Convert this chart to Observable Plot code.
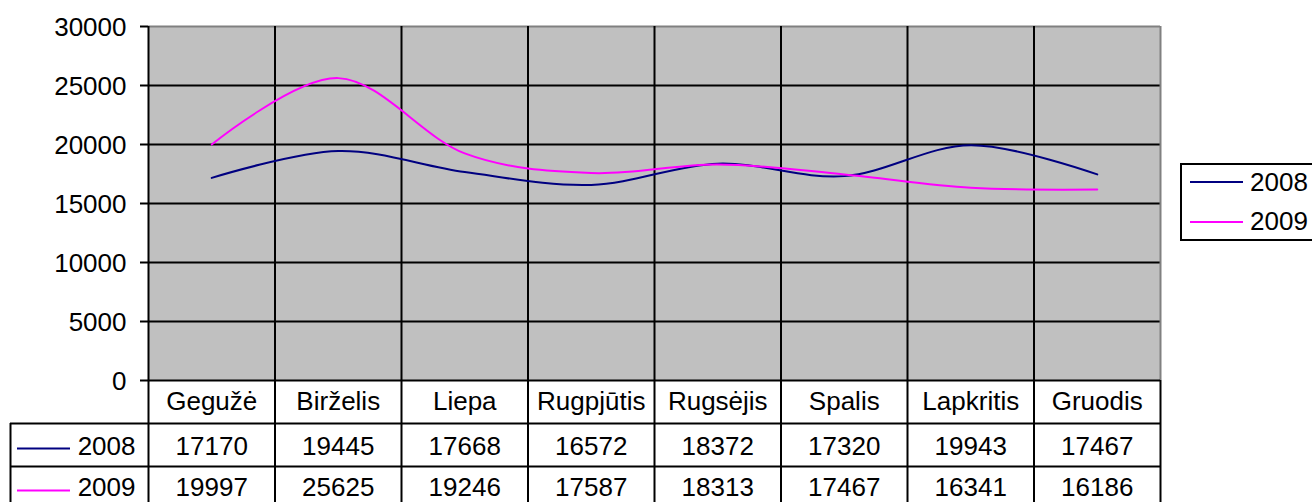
<!DOCTYPE html>
<html><head><meta charset="utf-8">
<script src="https://cdn.jsdelivr.net/npm/d3@7"></script>
<script src="https://cdn.jsdelivr.net/npm/@observablehq/plot@0.6"></script>
<style>
body{margin:0;background:#fff;}
#wrap{position:relative;width:1312px;height:502px;overflow:hidden;font-family:Arial,"Liberation Sans",sans-serif;}
#wrap svg{position:absolute;left:0;top:0;}
#legend{position:absolute;left:1180px;top:163px;width:220px;height:78px;border:2px solid #000;box-sizing:border-box;background:#fff}
.item{position:absolute;left:8px;height:30px;display:flex;align-items:center;font-size:26px;color:#000;white-space:nowrap}
.sw{width:53px;height:2px;margin-right:7px}
</style></head><body><div id="wrap"></div>
<script>
const months = ["Gegužė","Birželis","Liepa","Rugpjūtis","Rugsėjis","Spalis","Lapkritis","Gruodis"];
const years = ["2008","2009"];
const values2008 = [17170,19445,17668,16572,18372,17320,19943,17467];
const values2009 = [19997,25625,19246,17587,18313,17467,16341,16186];
const colors = ["#000080","#ff00ff"];
const yTicks = [0,5000,10000,15000,20000,25000,30000];

const seriesValues = [values2008, values2009];
const points = years.flatMap((year, k) => seriesValues[k].map((value, i) => ({year, i, month: months[i], value})));
const boundaries = d3.range(months.length).map(i => i - 0.5);

const W = 1312, H = 502;
const mL = 148, mR = 152, mT = 26, mB = 122;
const plotH = H - mT - mB;
const rowH = 43, tableH = 130, leftCol = 138;
const FS = 26;
const rowTextDy = [66, 107];
const rowLineDy = [68, 110];

const marks = [
  Plot.frame({fill: "#c0c0c0", stroke: "none"}),
  Plot.ruleY(yTicks.filter(v => v > 0 && v < 30000), {stroke: "#000", strokeWidth: 2}),
  Plot.ruleY([30000], {stroke: "#808080", strokeWidth: 2}),
  Plot.ruleX([months.length - 0.5], {stroke: "#808080", strokeWidth: 2}),
  Plot.ruleX(boundaries, {stroke: "#000", strokeWidth: 2, insetBottom: -tableH}),
  Plot.ruleX([months.length - 0.5], {stroke: "#000", strokeWidth: 2, insetTop: plotH, insetBottom: -tableH}),
  Plot.ruleX([-0.5], {stroke: "#000", strokeWidth: 2, dx: -leftCol, insetTop: plotH + rowH, insetBottom: -tableH}),
  Plot.ruleY([0], {stroke: "#000", strokeWidth: 2}),
  Plot.ruleY([0], {stroke: "#000", strokeWidth: 2, dy: rowH, insetLeft: -leftCol}),
  Plot.ruleY([0], {stroke: "#000", strokeWidth: 2, dy: 2 * rowH, insetLeft: -leftCol}),
  // y ticks and labels
  Plot.ruleY(yTicks, {x1: -0.5, x2: -0.5, insetLeft: -8, stroke: "#000", strokeWidth: 2}),
  Plot.text(yTicks, {y: d => d, frameAnchor: "left", lineAnchor: "middle", text: d => String(d), textAnchor: "end", dx: -22, dy: 1, fontSize: FS, fill: "#000"}),
  // series lines
  Plot.line(points, {x: "i", y: "value", z: "year", stroke: "year", strokeWidth: 2, curve: "cardinal"}),
  // table header
  Plot.text(months, {x: (d, i) => i, frameAnchor: "bottom", lineAnchor: "middle", dy: 21.5, fontSize: FS, fill: "#000"}),
];
years.forEach((year, k) => {
  const rows = points.filter(p => p.year === year);
  marks.push(Plot.text(rows, {x: "i", text: d => String(d.value), frameAnchor: "bottom", lineAnchor: "middle", dy: rowTextDy[k], fontSize: FS, fill: "#000"}));
  marks.push(Plot.text([year], {x: () => -0.5, frameAnchor: "bottom", lineAnchor: "middle", text: d => d, textAnchor: "end", dx: -13, dy: rowTextDy[k], fontSize: FS, fill: "#000"}));
  marks.push(Plot.ruleY([0], {x1: -0.5, x2: -0.5, insetLeft: -131, insetRight: 78, dy: rowLineDy[k], stroke: colors[k], strokeWidth: 2}));
});

const chart = Plot.plot({
  width: W, height: H,
  marginLeft: mL, marginRight: mR, marginTop: mT, marginBottom: mB,
  x: {domain: [-0.5, months.length - 0.5], axis: null},
  y: {domain: [0, 30000], axis: null},
  color: {domain: years, range: colors},
  style: {fontFamily: "Arial, 'Liberation Sans', sans-serif", fontSize: FS + "px", background: "transparent", overflow: "visible"},
  marks
});
const wrap = document.getElementById("wrap");
wrap.appendChild(chart);

const legend = document.createElement("div");
legend.id = "legend";
years.forEach((year, k) => {
  const item = document.createElement("div");
  item.className = "item";
  item.style.top = (k === 0 ? 2 : 41.5) + "px";
  const sw = document.createElement("span");
  sw.className = "sw";
  sw.style.background = colors[k];
  const t = document.createElement("span");
  t.textContent = year;
  item.appendChild(sw); item.appendChild(t);
  legend.appendChild(item);
});
wrap.appendChild(legend);
</script></body></html>
